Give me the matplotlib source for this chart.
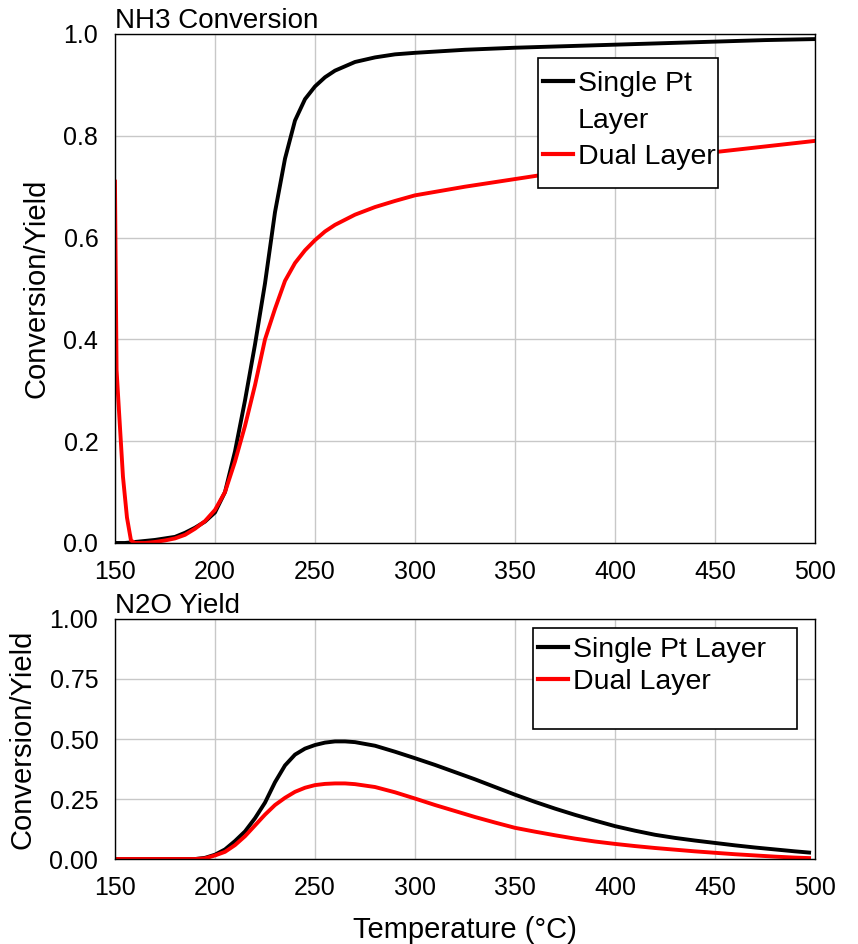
import matplotlib
matplotlib.use("Agg")
import matplotlib.pyplot as plt
from matplotlib.patches import Rectangle, Shadow
from matplotlib.lines import Line2D

plt.rcParams['font.family'] = ['Liberation Sans', 'DejaVu Sans']

# NH3 conversion (top panel)
t_single = [150, 155, 160, 165, 170, 175, 180, 185, 190, 195, 200, 205, 210, 215, 220,
            225, 230, 235, 240, 245, 250, 255, 260, 270, 280, 290, 300, 325, 350, 375,
            400, 425, 450, 475, 500]
nh3_single = [0.0, 0.0, 0.002, 0.004, 0.006, 0.009, 0.012, 0.02, 0.03, 0.042, 0.06, 0.10,
              0.18, 0.28, 0.39, 0.51, 0.65, 0.755, 0.83, 0.872, 0.897, 0.915, 0.928, 0.945,
              0.954, 0.96, 0.963, 0.969, 0.973, 0.976, 0.979, 0.982, 0.985, 0.988, 0.99]

t_dual = [150, 150.4, 150.8, 152, 154, 156, 158, 160, 165, 170, 175, 180, 185, 190, 195,
          200, 205, 210, 215, 220, 225, 230, 235, 240, 245, 250, 255, 260, 270, 280, 290,
          300, 325, 350, 375, 400, 425, 450, 475, 500]
nh3_dual = [0.71, 0.52, 0.34, 0.26, 0.13, 0.05, 0.005, 0.0, 0.0, 0.002, 0.005, 0.009,
            0.016, 0.028, 0.043, 0.065, 0.10, 0.16, 0.23, 0.31, 0.40, 0.46, 0.515, 0.55,
            0.575, 0.595, 0.612, 0.625, 0.645, 0.66, 0.672, 0.683, 0.70, 0.715, 0.73,
            0.745, 0.757, 0.768, 0.779, 0.79]

# N2O yield (bottom panel)
t_n2o = [150, 170, 190, 195, 200, 205, 210, 215, 220, 225, 230, 235, 240, 245, 250, 255,
         260, 265, 270, 280, 290, 300, 310, 320, 330, 340, 350, 360, 370, 380, 390, 400,
         410, 420, 430, 440, 450, 460, 470, 480, 490, 497]
n2o_single = [0.0, 0.0, 0.0, 0.005, 0.018, 0.04, 0.075, 0.115, 0.17, 0.235, 0.32, 0.39,
              0.435, 0.46, 0.475, 0.485, 0.49, 0.49, 0.487, 0.472, 0.447, 0.42, 0.392,
              0.362, 0.332, 0.30, 0.268, 0.238, 0.21, 0.184, 0.16, 0.137, 0.118, 0.101,
              0.088, 0.077, 0.067, 0.057, 0.048, 0.04, 0.032, 0.027]
n2o_dual = [0.0, 0.0, 0.0, 0.003, 0.015, 0.03, 0.058, 0.095, 0.14, 0.185, 0.225, 0.255,
            0.28, 0.297, 0.308, 0.313, 0.315, 0.315, 0.312, 0.30, 0.278, 0.252, 0.225,
            0.2, 0.175, 0.152, 0.13, 0.114, 0.099, 0.085, 0.073, 0.063, 0.054, 0.046,
            0.039, 0.032, 0.026, 0.02, 0.015, 0.01, 0.006, 0.004]

xticks = [150, 200, 250, 300, 350, 400, 450, 500]

fig = plt.figure(figsize=(8.58, 9.44), dpi=100)
ax1 = fig.add_axes([0.134, 0.4248, 0.816, 0.5392])
ax2 = fig.add_axes([0.134, 0.0900, 0.816, 0.2543])


def style(ax, yticks, fmt):
    ax.set_xlim(150, 500)
    ax.set_ylim(0, 1)
    ax.set_xticks(xticks)
    ax.set_yticks(yticks)
    ax.set_yticklabels([fmt % v for v in yticks])
    ax.grid(True, color='#c8c8c8', lw=1.0)
    ax.set_axisbelow(True)
    ax.tick_params(length=0, labelsize=18, pad=12)
    for s in ax.spines.values():
        s.set_color('black')
        s.set_linewidth(1.0)
    ax.set_ylabel('Conversion/Yield', fontsize=21, labelpad=9)


def legend_box(ax, x0, y0, x1, y1):
    rect = Rectangle((x0, y0), x1 - x0, y1 - y0, transform=ax.transAxes,
                     facecolor='white', edgecolor='black', lw=1.2, zorder=5, clip_on=False)
    sh = Shadow(rect, 2.5, -2.5)
    sh.set_facecolor('0.55')
    sh.set_edgecolor('none')
    sh.set_zorder(4.9)
    ax.add_patch(sh)
    ax.add_patch(rect)


style(ax1, [0.0, 0.2, 0.4, 0.6, 0.8, 1.0], '%.1f')
style(ax2, [0.0, 0.25, 0.5, 0.75, 1.0], '%.2f')

ax1.plot(t_single, nh3_single, color='black', lw=2.8)
ax1.plot(t_dual, nh3_dual, color='red', lw=2.8)
ax1.set_title('NH3 Conversion', loc='left', fontsize=20, pad=2)

legend_box(ax1, 0.604, 0.697, 0.861, 0.953)
h_blank = Line2D([], [], color='none')
leg1 = ax1.legend([Line2D([], [], color='black', lw=3), h_blank,
                   Line2D([], [], color='red', lw=3)],
                  ['Single Pt', 'Layer', 'Dual Layer'],
                  loc='upper left', bbox_to_anchor=(0.604, 0.937), borderaxespad=0,
                  frameon=False, fontsize=20.5, handlelength=1.04, handletextpad=0.18,
                  borderpad=0.18, labelspacing=0.37)
leg1.set_zorder(6)

ax2.plot(t_n2o, n2o_single, color='black', lw=2.8)
ax2.plot(t_n2o, n2o_dual, color='red', lw=2.8)
ax2.set_title('N2O Yield', loc='left', fontsize=20, pad=2)
ax2.set_xlabel('Temperature (\u00b0C)', fontsize=21, labelpad=12)

legend_box(ax2, 0.597, 0.542, 0.974, 0.9625)
leg2 = ax2.legend([Line2D([], [], color='black', lw=3), Line2D([], [], color='red', lw=3)],
                  ['Single Pt Layer', 'Dual Layer'],
                  loc='upper left', bbox_to_anchor=(0.597, 0.946), borderaxespad=0,
                  frameon=False, fontsize=20.5, handlelength=1.04, handletextpad=0.18,
                  borderpad=0.18, labelspacing=0.2)
leg2.set_zorder(6)

fig.savefig('out.png', dpi=100)
